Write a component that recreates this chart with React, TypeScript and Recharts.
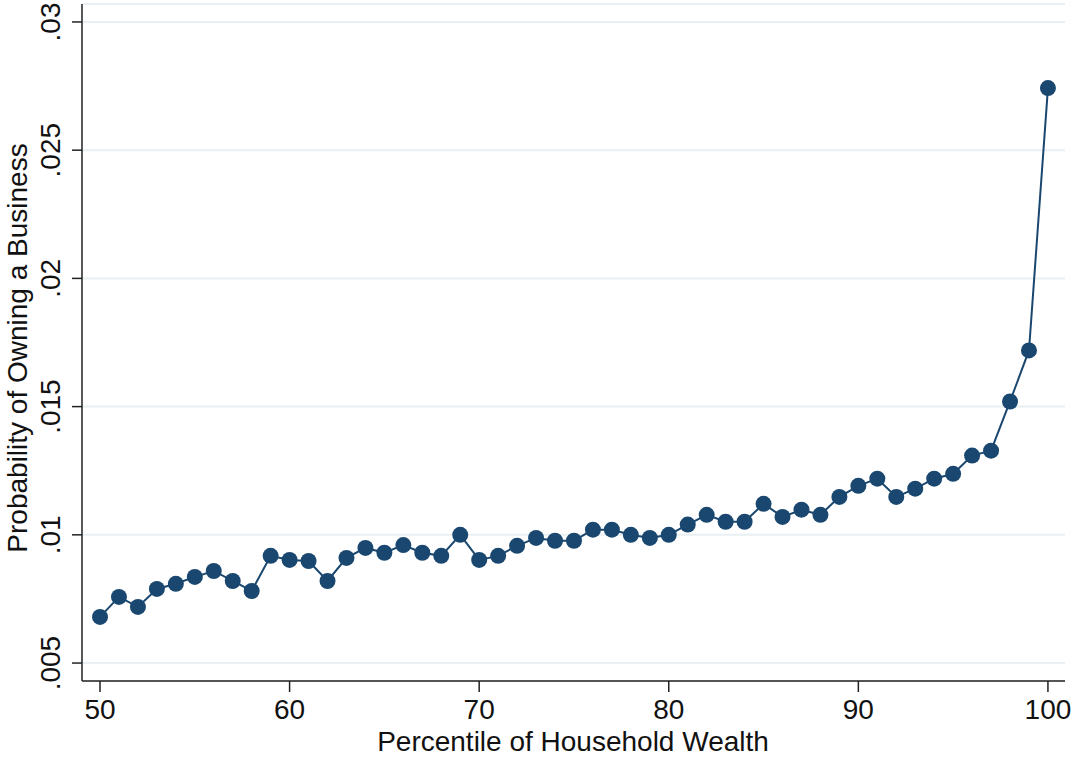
import { LineChart, Line, XAxis, YAxis, CartesianGrid, Label } from 'recharts';

const percentiles = [
  50, 51, 52, 53, 54, 55, 56, 57, 58, 59,
  60, 61, 62, 63, 64, 65, 66, 67, 68, 69,
  70, 71, 72, 73, 74, 75, 76, 77, 78, 79,
  80, 81, 82, 83, 84, 85, 86, 87, 88, 89,
  90, 91, 92, 93, 94, 95, 96, 97, 98, 99, 100,
];

const probability = [
  0.0068, 0.00758, 0.00719, 0.00789, 0.00809, 0.00836, 0.00859, 0.0082, 0.00781, 0.00918,
  0.00902, 0.00898, 0.0082, 0.0091, 0.00949, 0.0093, 0.0096, 0.0093, 0.00918, 0.01,
  0.00902, 0.00918, 0.00957, 0.00988, 0.00977, 0.00977, 0.0102, 0.0102, 0.01, 0.00988,
  0.01, 0.0104, 0.01078, 0.01051, 0.01051, 0.01121, 0.0107, 0.01098, 0.01078, 0.01148,
  0.01191, 0.01219, 0.01148, 0.0118, 0.01219, 0.01238, 0.01309, 0.01328, 0.0152, 0.01719, 0.02742,
];

const xTicks = [50, 60, 70, 80, 90, 100];
const yTicks = [0.005, 0.01, 0.015, 0.02, 0.025, 0.03];

const data = percentiles.map((p, i) => ({ pct: p, prob: probability[i] }));

const FONT = '"Liberation Sans", Arial, Helvetica, sans-serif';
const NAVY = '#1a476f';

// Stata-style labels: ".03" instead of "0.03"
const fmtY = (v: number) => String(Number(v.toFixed(3))).replace(/^0\./, '.');

const YTick = ({ x, y, payload }: any) => (
  <text
    x={x - 10}
    y={y}
    transform={`rotate(-90, ${x - 10}, ${y})`}
    textAnchor="middle"
    fontSize={28}
    fontFamily={FONT}
    fill="#111"
  >
    {fmtY(payload.value)}
  </text>
);

export default function App() {
  return (
    <div style={{ position: 'absolute', left: 0, top: 0, background: '#fff' }}>
      <LineChart
        width={1073}
        height={757}
        data={data}
        margin={{ top: 4, right: 8, left: 0, bottom: 0 }}
      >
        <CartesianGrid vertical={false} stroke="#e9eff2" strokeWidth={2} />
        <XAxis
          dataKey="pct"
          type="number"
          domain={[49.05, 100.9]}
          ticks={xTicks}
          allowDataOverflow
          height={76}
          stroke="#222"
          strokeWidth={1.5}
          tickSize={11}
          tickMargin={7}
          tick={{ fill: '#111', fontSize: 28, fontFamily: FONT }}
        >
          <Label
            content={() => (
              <text
                x={573}
                y={751}
                textAnchor="middle"
                fontSize={28}
                fontFamily={FONT}
                fill="#111"
              >
                Percentile of Household Wealth
              </text>
            )}
          />
        </XAxis>
        <YAxis
          type="number"
          domain={[0.0043, 0.0307]}
          ticks={yTicks}
          allowDataOverflow
          width={82}
          stroke="#222"
          strokeWidth={1.5}
          tickSize={10}
          tickMargin={2}
          tick={<YTick />}
        >
          <Label
            content={() => (
              <text
                x={27}
                y={348}
                transform="rotate(-90, 27, 348)"
                textAnchor="middle"
                fontSize={28}
                fontFamily={FONT}
                fill="#111"
              >
                Probability of Owning a Business
              </text>
            )}
          />
        </YAxis>
        <Line
          dataKey="prob"
          type="linear"
          stroke={NAVY}
          strokeWidth={2}
          dot={{ r: 8, fill: NAVY, stroke: NAVY, strokeWidth: 0 }}
          activeDot={false}
          isAnimationActive={false}
        />
      </LineChart>
    </div>
  );
}
